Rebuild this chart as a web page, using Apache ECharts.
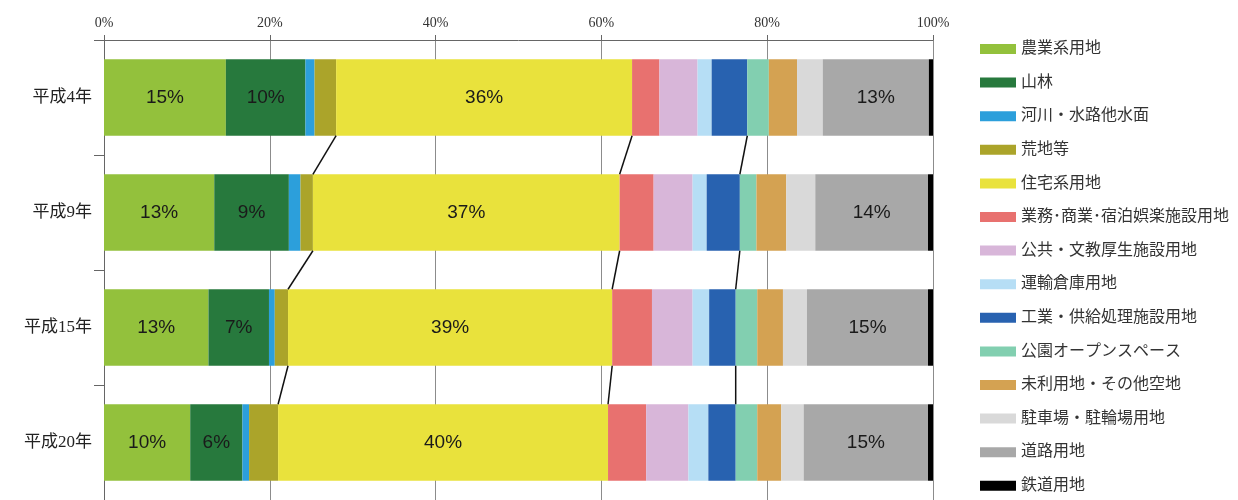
<!DOCTYPE html>
<html>
<head>
<meta charset="utf-8">
<script src="https://cdn.jsdelivr.net/npm/echarts@6/dist/echarts.min.js"></script>
<style>html,body{margin:0;padding:0;background:#fff;}#c{width:1238px;height:500px;}</style>
</head>
<body>
<div id="c"></div>
<script>
const categories = ['平成4年', '平成9年', '平成15年', '平成20年'];
const xTicks = [0, 20, 40, 60, 80, 100];

const seriesNames = ['農業系用地', '山林', '河川・水路他水面', '荒地等', '住宅系用地',
  '業務･商業･宿泊娯楽施設用地', '公共・文教厚生施設用地', '運輸倉庫用地', '工業・供給処理施設用地',
  '公園オープンスペース', '未利用地・その他空地', '駐車場・駐輪場用地', '道路用地', '鉄道用地'];

const agri        = [14.7, 13.3, 12.6, 10.4];
const forest      = [9.6, 9.0, 7.3, 6.3];
const river       = [1.1, 1.4, 0.7, 0.8];
const waste       = [2.6, 1.5, 1.6, 3.5];
const residential = [35.7, 37.0, 39.1, 39.8];
const business    = [3.3, 4.1, 4.8, 4.6];
const publicUse   = [4.6, 4.7, 4.9, 5.1];
const transport   = [1.7, 1.7, 2.0, 2.4];
const industrial  = [4.3, 4.0, 3.2, 3.3];
const park        = [2.6, 2.0, 2.6, 2.6];
const unused      = [3.4, 3.6, 3.1, 2.9];
const parking     = [3.1, 3.5, 2.9, 2.7];
const road        = [12.8, 13.6, 14.6, 15.0];
const rail        = [0.6, 0.6, 0.6, 0.6];

const allValues = [agri, forest, river, waste, residential, business, publicUse, transport,
  industrial, park, unused, parking, road, rail];
const colors = ['#93c13c', '#27793d', '#2c9fdb', '#aba42a', '#e9e23c', '#e8716f', '#d8b6d9',
  '#b6def5', '#2862b0', '#82cfb0', '#d4a252', '#d9d9d9', '#a8a8a8', '#000000'];
const labeled = [0, 1, 4, 12];
// connector lines after these series indices
const connectAfter = [3, 4, 8];

const BAR_RATIO = 0.665;

const serif = "'Liberation Serif', 'DejaVu Serif', 'Noto Sans CJK JP', serif";

const series = allValues.map((vals, i) => ({
  name: seriesNames[i],
  type: 'bar',
  stack: 'total',
  barCategoryGap: ((1 - BAR_RATIO) * 100).toFixed(1) + '%',
  itemStyle: { color: colors[i] },
  label: {
    show: labeled.includes(i),
    position: 'inside',
    fontFamily: "'Liberation Sans', Arial, sans-serif",
    fontSize: 19,
    color: '#1a1a1a',
    formatter: p => Math.round(p.value) + '%'
  },
  data: vals,
  z: 2
}));

// cumulative sums for connector lines
const lineData = [];
connectAfter.forEach(k => {
  for (let c = 0; c < categories.length - 1; c++) {
    let a = 0, b = 0;
    for (let s = 0; s <= k; s++) { a += allValues[s][c]; b += allValues[s][c + 1]; }
    lineData.push([a, c, b]);
  }
});

series.push({
  type: 'custom',
  name: 'lines',
  data: lineData,
  encode: { x: 0, y: 1 },
  z: 5,
  silent: true,
  renderItem: function (params, api) {
    const c = api.value(1);
    const p1 = api.coord([api.value(0), c]);
    const p2 = api.coord([api.value(2), c + 1]);
    const half = api.size([0, 1])[1] * BAR_RATIO / 2;
    return {
      type: 'line',
      shape: { x1: p1[0], y1: p1[1] + half, x2: p2[0], y2: p2[1] - half },
      style: { stroke: '#111', lineWidth: 1.5 }
    };
  }
});

const chart = echarts.init(document.getElementById('c'));
chart.setOption({
  animation: false,
  backgroundColor: '#fff',
  grid: { left: 104, right: 305, top: 40, bottom: -3, containLabel: false },
  legend: {
    data: seriesNames,
    orient: 'vertical',
    left: 975,
    top: 34,
    height: 466,
    itemWidth: 36,
    itemHeight: 10,
    itemGap: 13.6,
    icon: 'rect',
    textStyle: { fontFamily: serif, fontSize: 16, color: '#333', lineHeight: 20 }
  },
  xAxis: {
    type: 'value',
    position: 'top',
    min: 0,
    max: 100,
    interval: 20,
    axisLine: { show: true, lineStyle: { color: '#666', width: 1 } },
    axisTick: { show: true, length: 5, lineStyle: { color: '#666' } },
    splitLine: { show: true, lineStyle: { color: '#8c8c8c', width: 1 } },
    axisLabel: {
      margin: 10,
      fontFamily: serif,
      fontSize: 14,
      color: '#333',
      formatter: v => xTicks.includes(v) ? v + '%' : ''
    }
  },
  yAxis: {
    type: 'category',
    inverse: true,
    data: categories,
    axisLine: { show: true, lineStyle: { color: '#666', width: 1 } },
    axisTick: { show: true, length: 10, lineStyle: { color: '#666' } },
    axisLabel: { margin: 12, fontFamily: serif, fontSize: 17, color: '#222' }
  },
  series: series
});
</script>
</body>
</html>
